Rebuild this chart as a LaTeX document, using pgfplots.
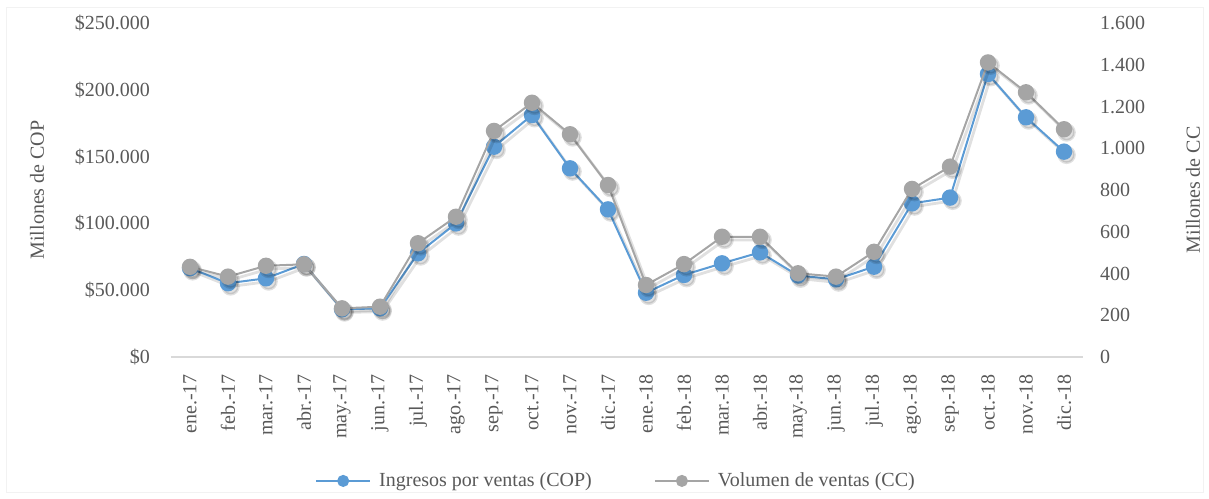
\documentclass[border=0pt]{standalone}
\usepackage{pgfplots}
\pgfplotsset{compat=1.18}
\usepackage{fontspec}
\setmainfont{Liberation Serif}
\definecolor{cblue}{HTML}{5B9BD5}
\definecolor{cgray}{HTML}{A5A5A5}
\definecolor{ctext}{HTML}{595959}
\definecolor{caxis}{HTML}{D9D9D9}
\pgfplotstableread{
x ing vol
0  66500 432
1  55200 385
2  58900 437
3  69600 444
4  35700 233
5  36400 241
6  77600 545
7  100000 672
8  157400 1083
9  181100 1218
10 141200 1067
11 110500 824
12 48100 345
13 61400 445
14 70100 576
15 78300 576
16 61000 401
17 58100 385
18 67600 504
19 115000 805
20 119300 912
21 211800 1411
22 179400 1268
23 153700 1091
}\datatable
\begin{document}
\begin{tikzpicture}
\path (0pt,0pt) rectangle (604.5pt,249pt);
\draw[color=black!5] (3pt,3pt) rectangle (601.5pt,245.5pt);
\pgfplotsset{
  common/.style={
    scale only axis, width=456pt, height=167pt,
    at={(85.5pt,70.5pt)}, anchor=south west,
    xmin=-0.5, xmax=23.5,
    ticklabel style={font=\fontsize{10}{12}\selectfont, text=ctext},
    label style={font=\fontsize{10}{12}\selectfont, text=ctext},
    major tick length=0pt,
    scaled y ticks=false,
    clip=false,
  },
  shadow/.style={draw=black, opacity=0.12, line width=1.4pt, mark=*, mark size=3.9pt,
    mark options={draw=black, fill=black}, forget plot, /tikz/xshift=1.3pt, /tikz/yshift=-1.6pt},
}
\begin{axis}[common,
  axis x line*=bottom, axis y line*=left,
  x axis line style={caxis, line width=0.9pt, -},
  y axis line style={draw=none},
  ymin=0, ymax=250000,
  ytick={0,50000,100000,150000,200000,250000},
  yticklabels={\$0,\$50.000,\$100.000,\$150.000,\$200.000,\$250.000},
  yticklabel style={xshift=-7pt},
  xtick={0,...,23},
  xticklabels={ene.-17,feb.-17,mar.-17,abr.-17,may.-17,jun.-17,jul.-17,ago.-17,sep.-17,oct.-17,nov.-17,dic.-17,ene.-18,feb.-18,mar.-18,abr.-18,may.-18,jun.-18,jul.-18,ago.-18,sep.-18,oct.-18,nov.-18,dic.-18},
  xticklabel style={rotate=90, anchor=east, xshift=-5pt},
  ylabel={Millones de COP},
  ylabel style={at={(axis description cs:-0.147,0.5)}, anchor=center, rotate=0},
]
\addplot[shadow] table[x=x,y=ing]{\datatable};
\addplot[cblue, line width=1pt, mark=*, mark size=3.6pt, mark options={fill=cblue, draw=cblue}] table[x=x,y=ing]{\datatable};
\end{axis}
\begin{axis}[common,
  axis x line=none, axis y line*=right,
  y axis line style={draw=none},
  ymin=0, ymax=1600,
  ytick={0,200,400,600,800,1000,1200,1400,1600},
  yticklabels={0,200,400,600,800,1.000,1.200,1.400,1.600},
  yticklabel style={xshift=5pt},
  ylabel={Millones de CC},
  ylabel style={at={(axis description cs:1.1206,0.5)}, anchor=center, rotate=0},
  legend style={at={(axis description cs:0.489,-0.371)}, anchor=center, draw=none, fill=none,
    legend columns=2, font=\fontsize{10}{12}\selectfont, text=ctext,
    /tikz/every even column/.append style={column sep=29pt},
    /tikz/every odd column/.append style={column sep=2pt}},
  legend image code/.code={\draw[mark repeat=2,mark phase=2,#1] plot coordinates {(0pt,0pt)(13.5pt,0pt)(27pt,0pt)};},
]
\addlegendimage{cblue, line width=1pt, mark=*, mark size=2.5pt, mark options={fill=cblue, draw=cblue}}
\addlegendentry{Ingresos por ventas (COP)}
\addlegendimage{cgray, line width=1pt, mark=*, mark size=2.5pt, mark options={fill=cgray, draw=cgray}}
\addlegendentry{Volumen de ventas (CC)}
\addplot[shadow] table[x=x,y=vol]{\datatable};
\addplot[cgray, line width=1pt, mark=*, mark size=3.6pt, mark options={fill=cgray, draw=cgray}, forget plot] table[x=x,y=vol]{\datatable};
\end{axis}
\end{tikzpicture}
\end{document}
